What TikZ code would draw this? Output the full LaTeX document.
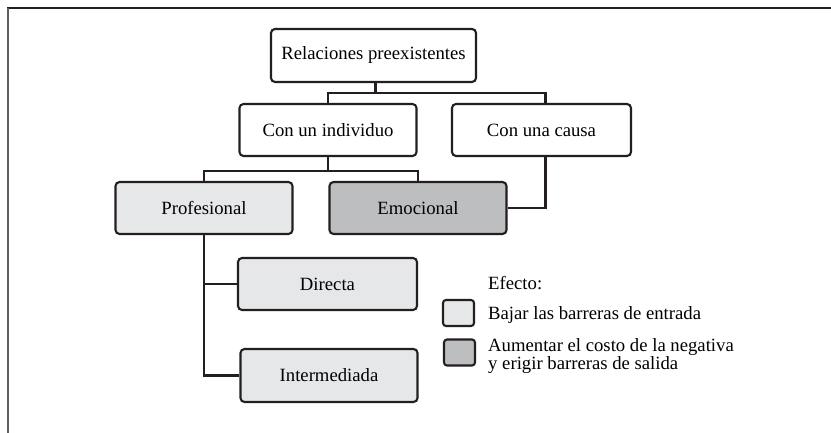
\documentclass[tikz,border=0pt]{standalone}
\usepackage{fontspec}
\setmainfont{Liberation Serif}
\usetikzlibrary{calc}
\definecolor{lightfill}{HTML}{E6E7E8}
\definecolor{darkfill}{HTML}{BCBEC0}
\definecolor{edge}{HTML}{231F20}
\definecolor{framegray}{HTML}{5F5F5F}
\begin{document}
\begin{tikzpicture}[x=1pt,y=-1pt,
  box/.style={draw=edge, line width=2.1pt, rounded corners=4pt, minimum width=177pt, minimum height=52pt, inner sep=0pt, align=center},
  plain/.style={box, fill=white},
  light/.style={box, fill=lightfill},
  dark/.style={box, fill=darkfill},
  swatch/.style={draw=edge, line width=2.1pt, rounded corners=3pt, minimum width=31pt, minimum height=26pt, inner sep=0pt},
  conn/.style={draw=edge, line width=2.1pt},
  lbl/.style={inner sep=0pt, anchor=base west}
]
\fontsize{18.7}{17}\selectfont
\useasboundingbox (0,0) rectangle (831,433);
\fill[white] (0,0) rectangle (831,433);
% frame
\draw[edge, line width=2.2pt] (7,8) -- (831,8);
\draw[framegray, line width=2.4pt] (8,8) -- (8,433);

% nodes
\node[plain, minimum width=205pt, minimum height=53pt] (rel) at (373.5,55.5) {Relaciones preexistentes};
\node[plain] (ind) at (328,130) {Con un individuo};
\node[plain, minimum width=179pt] (cau) at (541.5,130) {Con una causa};
\node[light] (pro) at (204,208) {Profesional};
\node[dark] (emo) at (418,208) {Emocional};
\node[light, minimum width=179pt] (dir) at (327.5,284) {Directa};
\node[light, minimum height=53pt] (int) at (329,375.5) {Intermediada};

% connectors
\coordinate (relb) at ($(rel.south)+(2,0)$);
\coordinate (caut) at ($(cau.north)+(4,0)$);
\coordinate (caub) at ($(cau.south)+(4,0)$);
\draw[conn] (relb) -- ++(0,10) -| (ind.north);
\draw[conn] (relb) -- ++(0,10) -| (caut);
\draw[conn] (ind.south) -- ++(0,14) -| (pro.north);
\draw[conn] (ind.south) -- ++(0,14) -| (emo.north);
\draw[conn] (caub) |- (emo.east);
\draw[conn] (pro.south) |- (dir.west);
\draw[conn] (pro.south) |- (int.west);

% legend
\node[lbl] (efe) at (488,290) {Efecto:};
\node[swatch, fill=lightfill] (sw1) at (458.5,313) {};
\node[lbl] (t1) at (488,319) {Bajar las barreras de entrada};
\node[swatch, fill=darkfill] (sw2) at (459.5,352.5) {};
\node[inner sep=0pt, anchor=north west, align=left] (t2) at (488,338) {Aumentar el costo de la negativa\\y erigir barreras de salida};
\end{tikzpicture}
\end{document}
